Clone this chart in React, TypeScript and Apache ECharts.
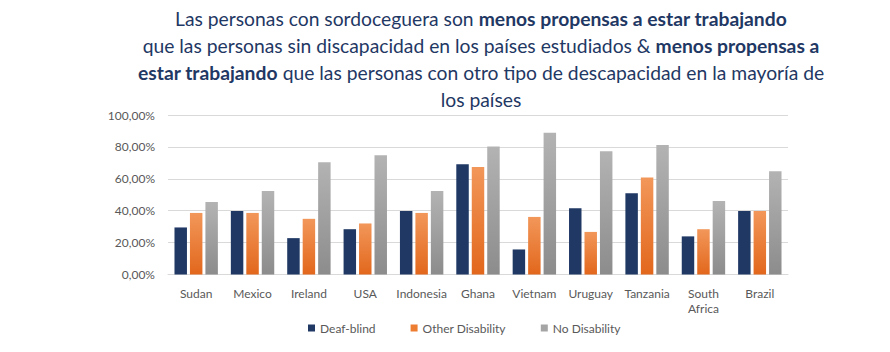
import React, { useEffect, useRef } from "react";
import * as echarts from "echarts";

const categories = ["Sudan", "Mexico", "Ireland", "USA", "Indonesia", "Ghana", "Vietnam", "Uruguay", "Tanzania", "South Africa", "Brazil"];
const deafBlind = [29.5, 39.8, 22.8, 28.4, 39.8, 69.2, 15.7, 41.6, 51.0, 23.9, 39.8];
const otherDisability = [38.6, 38.6, 34.9, 32.0, 38.6, 67.4, 36.1, 26.7, 60.8, 28.4, 39.8];
const noDisability = [45.4, 52.4, 70.3, 74.8, 52.4, 80.2, 88.9, 77.3, 81.2, 46.1, 64.8];
const yTicks = { min: 0, max: 100, interval: 20 };

const FONT = "Lato";

export default function App() {
  const ref = useRef<HTMLDivElement>(null);
  useEffect(() => {
    if (!ref.current) return;
    const chart = echarts.init(ref.current, undefined, { renderer: "svg" });
    const grad = (top: string, bottom: string) =>
      new echarts.graphic.LinearGradient(0, 0, 0, 1, [
        { offset: 0, color: top },
        { offset: 1, color: bottom },
      ]);
    chart.setOption({
      animation: false,
      textStyle: { fontFamily: FONT },
      title: {
        left: 476,
        top: 0,
        textAlign: "center",
        text:
          "{n|Las personas con sordoceguera son }{b|menos propensas a estar trabajando}\n" +
          "{n|que las personas sin discapacidad en los países estudiados & }{b|menos propensas a}\n" +
          "{b|estar trabajando}{n| que las personas con otro tipo de descapacidad en la mayoría de}\n" +
          "{n|los países}",
        textStyle: {
          fontWeight: "normal",
          rich: {
            n: { fontFamily: FONT, fontSize: 19.3, fontWeight: "normal", color: "#1f3864", lineHeight: 27 },
            b: { fontFamily: FONT, fontSize: 19.3, fontWeight: "bold", color: "#1f3864", lineHeight: 27 },
          },
        },
      },
      legend: {
        bottom: 13,
        left: 303,
        itemWidth: 7,
        itemHeight: 7,
        itemGap: 35,
        icon: "rect",
        textStyle: { fontFamily: FONT, fontSize: 12, color: "#595959" },
        data: [
          { name: "Deaf-blind", itemStyle: { color: "#1f3864" } },
          { name: "Other Disability", itemStyle: { color: "#ed7d31" } },
          { name: "No Disability", itemStyle: { color: "#a5a5a5" } },
        ],
      },
      grid: { left: 168, right: 102, top: 115, bottom: 77.5, containLabel: false },
      xAxis: {
        type: "category",
        data: categories,
        axisLine: { lineStyle: { color: "#d9d9d9" } },
        axisTick: { show: false },
        axisLabel: {
          color: "#595959",
          fontFamily: FONT,
          fontSize: 12,
          margin: 11,
          lineHeight: 15,
          interval: 0,
          formatter: (v: string) => v.replace(" ", "\n"),
        },
      },
      yAxis: {
        type: "value",
        min: yTicks.min,
        max: yTicks.max,
        interval: yTicks.interval,
        axisLine: { show: false },
        axisTick: { show: false },
        splitLine: { lineStyle: { color: "#d9d9d9" } },
        axisLabel: {
          color: "#595959",
          fontFamily: FONT,
          fontSize: 12,
          margin: 13,
          formatter: (v: number) => v.toFixed(2).replace(".", ",") + "%",
        },
      },
      series: [
        {
          name: "Deaf-blind",
          type: "bar",
          data: deafBlind,
          barGap: "24%",
          barCategoryGap: "23%",
          itemStyle: { color: "#1f3864" },
        },
        {
          name: "Other Disability",
          type: "bar",
          data: otherDisability,
          itemStyle: { color: grad("#f2975a", "#e2671c") },
        },
        {
          name: "No Disability",
          type: "bar",
          data: noDisability,
          itemStyle: { color: grad("#b3b3b3", "#8c8c8c") },
        },
      ],
    });
    return () => chart.dispose();
  }, []);
  return (
    <div
      ref={ref}
      style={{ position: "fixed", left: 0, top: 0, width: 890, height: 352, background: "#fff" }}
    />
  );
}
